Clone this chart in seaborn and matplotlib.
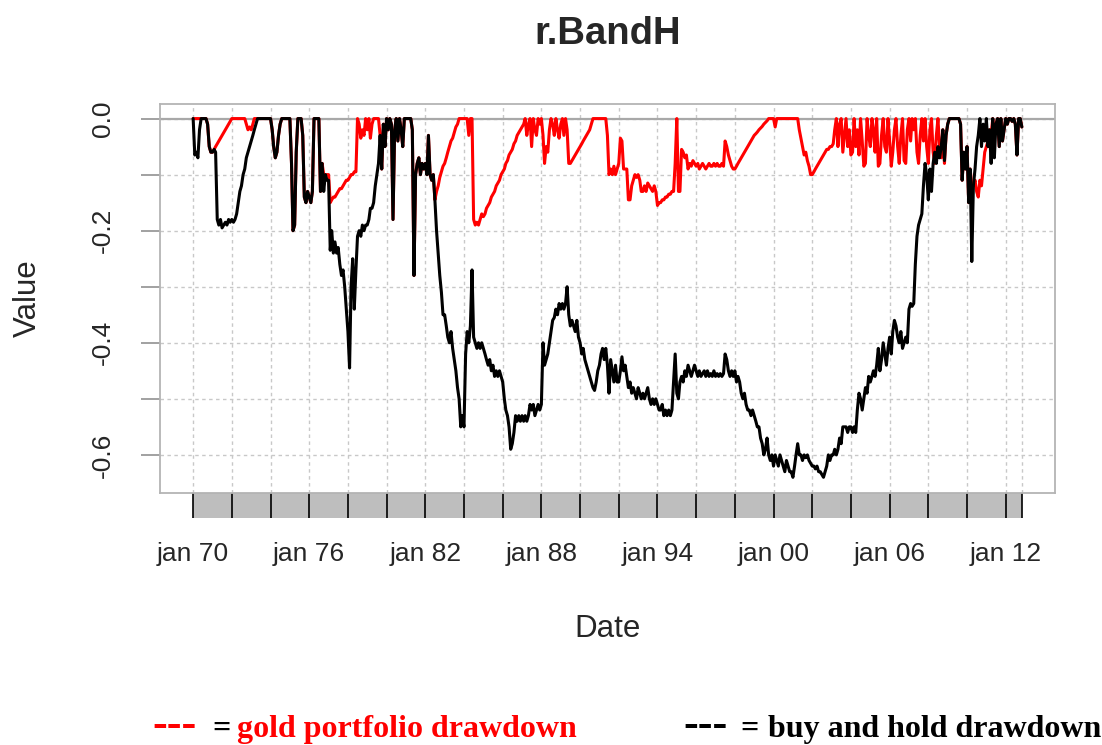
import numpy as np
import pandas as pd
import matplotlib
matplotlib.use("Agg")
import matplotlib.pyplot as plt
import matplotlib.dates as mdates
import matplotlib.transforms as mtransforms
from matplotlib.patches import Rectangle
import seaborn as sns

# monthly drawdowns, jan 1970 .. nov 2012 (one row per year)
gold_1970s = [
    0, 0, 0, 0, 0, 0, 0, 0, 0, -0.01, -0.05, -0.06,
    -0.06, -0.055, -0.05, -0.045, -0.04, -0.035, -0.03, -0.025, -0.02, -0.015, -0.01, -0.005,
    0, 0, 0, 0, 0, 0, 0, 0, 0, -0.01, -0.02, -0.015,
    -0.02, -0.01, 0, 0, 0, 0, 0, 0, 0, 0, 0, 0,
    0, -0.02, -0.05, -0.07, -0.06, -0.03, -0.01, 0, 0, 0, 0, 0,
    0, -0.08, -0.2, -0.19, -0.06, 0, 0, 0, -0.03, -0.14, -0.15, -0.13,
    -0.14, -0.15, -0.13, 0, 0, 0, 0, -0.13, -0.08, -0.1, -0.1, -0.1,
    -0.1, -0.15, -0.145, -0.14, -0.14, -0.135, -0.13, -0.125, -0.125, -0.12, -0.115, -0.11,
    -0.11, -0.105, -0.1, -0.1, -0.095, -0.095, 0, -0.01, -0.035, -0.02, -0.03, 0,
    -0.02, 0, -0.035, -0.01, 0, 0, 0, 0, -0.03, -0.09, -0.01, -0.05,
]
gold_1980s = [
    0, -0.02, 0, -0.01, -0.18, -0.02, 0, -0.04, 0, -0.02, -0.05, 0,
    0, 0, 0, 0, -0.02, -0.28, -0.1, -0.08, -0.07, -0.1, -0.08, -0.09,
    -0.08, -0.1, -0.03, -0.1, -0.11, -0.1, -0.145, -0.13, -0.12, -0.105, -0.095, -0.085,
    -0.08, -0.07, -0.06, -0.05, -0.04, -0.035, -0.025, -0.015, -0.01, 0, 0, 0,
    0, 0, 0, -0.03, 0, 0, -0.18, -0.19, -0.185, -0.19, -0.18, -0.17,
    -0.175, -0.17, -0.16, -0.155, -0.15, -0.14, -0.135, -0.13, -0.12, -0.115, -0.11, -0.1,
    -0.095, -0.09, -0.08, -0.075, -0.065, -0.06, -0.055, -0.045, -0.04, -0.03, -0.025, -0.02,
    -0.015, -0.01, 0, -0.03, -0.01, 0, -0.05, 0, -0.02, -0.03, 0, -0.01,
    0, -0.03, -0.08, -0.05, -0.06, -0.02, 0, -0.01, -0.03, 0, -0.02, -0.035,
    -0.01, 0, -0.03, 0, -0.02, -0.08, -0.08, -0.075, -0.07, -0.065, -0.06, -0.055,
]
gold_1990s = [
    -0.05, -0.045, -0.04, -0.035, -0.03, -0.025, -0.02, -0.01, 0, 0, 0, 0,
    0, 0, 0, 0, 0, -0.03, -0.1, -0.09, -0.1, -0.085, -0.1, -0.09,
    -0.08, -0.035, -0.04, -0.09, -0.09, -0.09, -0.145, -0.145, -0.12, -0.11, -0.1, -0.105,
    -0.1, -0.11, -0.13, -0.13, -0.12, -0.13, -0.115, -0.12, -0.125, -0.13, -0.12, -0.13,
    -0.155, -0.15, -0.15, -0.145, -0.145, -0.14, -0.14, -0.135, -0.135, -0.13, -0.13, -0.08,
    0, -0.13, -0.13, -0.055, -0.06, -0.07, -0.065, -0.09, -0.08, -0.085, -0.075, -0.08,
    -0.085, -0.08, -0.09, -0.085, -0.08, -0.085, -0.09, -0.085, -0.08, -0.085, -0.085, -0.08,
    -0.085, -0.08, -0.085, -0.085, -0.08, -0.085, -0.04, -0.05, -0.065, -0.075, -0.085, -0.09,
    -0.09, -0.085, -0.08, -0.075, -0.07, -0.065, -0.06, -0.055, -0.05, -0.045, -0.04, -0.035,
    -0.03, -0.027, -0.024, -0.02, -0.017, -0.014, -0.01, -0.007, -0.004, 0, 0, 0,
]
gold_2000s = [
    0, -0.015, 0, 0, 0, 0, 0, 0, 0, 0, 0, 0,
    0, 0, 0, 0, -0.02, -0.035, -0.05, -0.065, -0.06, -0.075, -0.085, -0.1,
    -0.1, -0.095, -0.09, -0.085, -0.08, -0.075, -0.07, -0.065, -0.06, -0.055, -0.055, -0.05,
    -0.05, -0.045, -0.02, 0, -0.05, -0.01, 0, -0.06, -0.03, 0, -0.05, -0.02,
    -0.065, -0.06, 0, -0.05, -0.02, -0.065, 0, -0.04, -0.085, -0.08, 0, -0.03,
    -0.05, 0, -0.02, -0.06, 0, -0.085, -0.08, -0.03, 0, -0.05, -0.06, 0,
    -0.04, -0.085, -0.06, -0.02, 0, -0.05, -0.08, -0.03, 0, -0.075, -0.08, -0.02,
    0, -0.04, 0, -0.02, 0, -0.06, -0.08, -0.03, 0, -0.04, 0, -0.05,
    -0.08, -0.02, 0, -0.06, -0.08, -0.03, 0, -0.05, -0.07, -0.02, -0.08, -0.03,
    -0.01, 0, 0, 0, 0, 0, 0, 0, -0.01, -0.11, -0.06, -0.09,
]
gold_2010s = [
    -0.05, -0.15, -0.09, -0.12, -0.12, -0.11, -0.13, -0.14, -0.11, -0.12, -0.09, -0.06,
    -0.05, -0.04, -0.02, -0.03, 0, -0.02, -0.01, 0, -0.05, 0, -0.04, -0.02,
    0, -0.01, 0, 0, -0.005, 0, -0.01, -0.065, 0, 0, -0.015,
]

bh_1970s = [
    0, -0.065, -0.06, -0.07, -0.02, 0, 0, 0, 0, -0.01, -0.05, -0.06,
    -0.06, -0.055, -0.06, -0.18, -0.19, -0.18, -0.195, -0.19, -0.185, -0.19, -0.18, -0.185,
    -0.18, -0.185, -0.18, -0.17, -0.15, -0.13, -0.12, -0.1, -0.09, -0.07, -0.06, -0.05,
    -0.04, -0.03, -0.02, -0.01, 0, 0, 0, 0, 0, 0, 0, 0,
    0, -0.02, -0.05, -0.07, -0.06, -0.03, -0.01, 0, 0, 0, 0, 0,
    0, -0.08, -0.2, -0.19, -0.06, 0, 0, 0, -0.03, -0.14, -0.15, -0.13,
    -0.14, -0.15, -0.13, 0, 0, 0, 0, -0.13, -0.08, -0.13, -0.1, -0.11,
    -0.11, -0.235, -0.2, -0.24, -0.22, -0.24, -0.23, -0.26, -0.28, -0.27, -0.3, -0.34,
    -0.38, -0.445, -0.3, -0.25, -0.34, -0.27, -0.21, -0.2, -0.21, -0.19, -0.2, -0.19,
    -0.19, -0.18, -0.16, -0.16, -0.15, -0.12, -0.1, -0.08, -0.03, -0.09, -0.01, -0.05,
]
bh_1980s = [
    0, -0.02, 0, -0.01, -0.18, -0.02, 0, -0.04, 0, -0.02, -0.05, 0,
    0, 0, 0, 0, -0.02, -0.28, -0.1, -0.08, -0.07, -0.1, -0.08, -0.09,
    -0.08, -0.1, -0.03, -0.1, -0.11, -0.1, -0.145, -0.2, -0.24, -0.28, -0.31, -0.35,
    -0.35, -0.37, -0.39, -0.4, -0.38, -0.41, -0.43, -0.45, -0.48, -0.5, -0.55, -0.53,
    -0.55, -0.42, -0.38, -0.4, -0.37, -0.27, -0.39, -0.4, -0.41, -0.4, -0.41, -0.4,
    -0.41, -0.42, -0.43, -0.44, -0.43, -0.45, -0.44, -0.46, -0.45, -0.46, -0.45, -0.46,
    -0.47, -0.5, -0.52, -0.53, -0.55, -0.59, -0.58, -0.56, -0.53, -0.54, -0.53, -0.54,
    -0.53, -0.54, -0.53, -0.54, -0.53, -0.51, -0.52, -0.51, -0.53, -0.52, -0.51, -0.52,
    -0.51, -0.4, -0.44, -0.43, -0.42, -0.4, -0.38, -0.36, -0.355, -0.34, -0.35, -0.33,
    -0.34, -0.33, -0.34, -0.33, -0.3, -0.35, -0.37, -0.36, -0.37, -0.38, -0.36, -0.39,
]
bh_1990s = [
    -0.4, -0.42, -0.41, -0.43, -0.44, -0.45, -0.46, -0.47, -0.48, -0.485, -0.47, -0.45,
    -0.44, -0.42, -0.41, -0.43, -0.41, -0.44, -0.49, -0.43, -0.45, -0.47, -0.44, -0.47,
    -0.47, -0.45, -0.425, -0.45, -0.44, -0.46, -0.48, -0.47, -0.49, -0.48, -0.49, -0.5,
    -0.48, -0.49, -0.5, -0.49, -0.5, -0.49, -0.48, -0.5, -0.51, -0.5, -0.51, -0.5,
    -0.51, -0.52, -0.52, -0.51, -0.53, -0.52, -0.53, -0.52, -0.53, -0.52, -0.47, -0.42,
    -0.49, -0.5, -0.47, -0.46, -0.47, -0.45, -0.46, -0.44, -0.45, -0.46, -0.45, -0.44,
    -0.45, -0.46, -0.45, -0.46, -0.455, -0.45, -0.46, -0.45, -0.46, -0.455, -0.46, -0.45,
    -0.46, -0.455, -0.46, -0.455, -0.46, -0.455, -0.42, -0.43, -0.45, -0.46, -0.45, -0.46,
    -0.45, -0.47, -0.46, -0.47, -0.49, -0.5, -0.49, -0.51, -0.52, -0.52, -0.53, -0.52,
    -0.53, -0.54, -0.55, -0.55, -0.57, -0.58, -0.6, -0.59, -0.57, -0.6, -0.61, -0.6,
]
bh_2000s = [
    -0.62, -0.6, -0.61, -0.62, -0.6, -0.61, -0.62, -0.63, -0.61, -0.62, -0.63, -0.63,
    -0.64, -0.62, -0.6, -0.58, -0.6, -0.6, -0.61, -0.6, -0.605, -0.6, -0.61, -0.615,
    -0.62, -0.62, -0.625, -0.62, -0.63, -0.63, -0.635, -0.64, -0.63, -0.62, -0.6, -0.61,
    -0.6, -0.6, -0.59, -0.6, -0.59, -0.57, -0.58, -0.55, -0.55, -0.55, -0.56, -0.55,
    -0.55, -0.56, -0.55, -0.56, -0.52, -0.49, -0.5, -0.52, -0.5, -0.48, -0.49, -0.46,
    -0.47, -0.46, -0.45, -0.46, -0.44, -0.41, -0.45, -0.43, -0.4, -0.42, -0.44, -0.41,
    -0.39, -0.42, -0.38, -0.36, -0.37, -0.39, -0.4, -0.38, -0.41, -0.4, -0.39, -0.4,
    -0.34, -0.33, -0.335, -0.33, -0.26, -0.21, -0.19, -0.18, -0.17, -0.12, -0.08, -0.1,
    -0.145, -0.09, -0.13, -0.08, -0.06, -0.08, -0.05, -0.07, -0.05, -0.02, -0.075, -0.03,
    -0.01, 0, 0, 0, 0, 0, 0, 0, -0.01, -0.11, -0.06, -0.09,
]
bh_2010s = [
    -0.05, -0.15, -0.09, -0.255, -0.12, -0.09, -0.05, -0.03, 0, -0.05, -0.01, -0.04,
    0, -0.05, -0.02, -0.08, 0, -0.07, -0.01, 0, -0.05, 0, -0.04, -0.02,
    0, -0.01, 0, 0, -0.005, 0, -0.01, -0.065, 0, 0, -0.015,
]

first_month = "1970-01-01"
tick_years = list(range(1970, 2013, 2))
label_years = [1970, 1976, 1982, 1988, 1994, 2000, 2006, 2012]
y_ticks = [0.0, -0.1, -0.2, -0.3, -0.4, -0.5, -0.6]
y_labels = ["0.0", "", "-0.2", "", "-0.4", "", "-0.6"]

gold = gold_1970s + gold_1980s + gold_1990s + gold_2000s + gold_2010s
bh = bh_1970s + bh_1980s + bh_1990s + bh_2000s + bh_2010s
dates = pd.date_range(first_month, periods=len(bh), freq="MS")
df = pd.DataFrame({"Date": dates, "gold": gold, "bh": bh})

sns.set_style("white")
plt.rcParams["font.family"] = ["Liberation Sans", "DejaVu Sans"]
plt.rcParams["axes.unicode_minus"] = False

W, H = 1102, 745
fig = plt.figure(figsize=(W / 100, H / 100), dpi=100)
ax = fig.add_axes([160 / W, 1 - 493 / H, 895 / W, 389 / H])

ax.axhline(0, color="#A8A8A8", lw=1.6, zorder=1.5)
sns.lineplot(data=df, x="Date", y="gold", color="#FF0000", lw=2.2,
             estimator=None, ax=ax, zorder=3)
sns.lineplot(data=df, x="Date", y="bh", color="black", lw=2.2,
             estimator=None, ax=ax, zorder=4)

# R style 4% padding around the data
span = dates[-1] - dates[0]
ax.set_xlim(dates[0] - 0.04 * span, dates[-1] + 0.04 * span)
ax.set_ylim(-0.668, 0.026)

# x axis: ticks every 2 years plus the last observation, labels every 6 years
tick_dates = [pd.Timestamp(f"{y}-01-01") for y in tick_years] + [dates[-1]]
tick_text = [f"jan {d.year % 100:02d}" if (d.year in label_years and d.month == 1) else ""
             for d in tick_dates]
ax.set_xticks(tick_dates)
ax.set_xticklabels(tick_text, fontsize=19)
ax.tick_params(axis="x", bottom=True, top=False, direction="out", length=18,
               width=1.2, color="black", pad=17)

ax.set_yticks(y_ticks)
ax.set_yticklabels(y_labels, rotation=90, va="center", fontsize=19)
ax.tick_params(axis="y", left=True, right=False, direction="out", length=13.7,
               width=1.3, color="#9A9A9A", pad=19)

# grey band of monthly minor ticks under the plot
trans = mtransforms.blended_transform_factory(ax.transData, ax.transAxes)
x0 = mdates.date2num(dates[0])
x1 = mdates.date2num(dates[-1])
ax.add_patch(Rectangle((x0, -25 / 389), x1 - x0, 25 / 389, transform=trans,
                       facecolor="#BEBEBE", edgecolor="none", clip_on=False, zorder=0))

ax.grid(True, color="#C8C8C8", linestyle=(0, (2.5, 2.5)), lw=1.0)
ax.set_axisbelow(True)
for s in ax.spines.values():
    s.set_color("#B4B4B4")
    s.set_linewidth(1.3)

ax.set_title("r.BandH", fontsize=27.5, fontweight="bold", pad=43)
ax.set_xlabel("Date", fontsize=22.5, va="center")
ax.xaxis.set_label_coords(0.5, (493 - 629) / 389)
ax.set_ylabel("Value", fontsize=22.5, va="center", ha="center")
ax.yaxis.set_label_coords((28 - 160) / 895, 0.5)

# hand-made legend under the chart
serif = dict(fontweight="bold", va="baseline",
             family=["Liberation Serif", "DejaVu Serif"])
yb = 1 - 737 / H
fig.text(152 / W, yb, "---", color="#FF0000", fontsize=32, **serif)
fig.text(212 / W, yb, "=", color="black", fontsize=23, **serif)
fig.text(237 / W, yb, "gold portfolio drawdown", color="#FF0000", fontsize=23, **serif)
fig.text(683 / W, yb, "---", color="black", fontsize=32, **serif)
fig.text(740 / W, yb, "=", color="black", fontsize=23, **serif)
fig.text(768 / W, yb, "buy and hold drawdown", color="black", fontsize=23, **serif)

fig.savefig("out.png", dpi=100)
